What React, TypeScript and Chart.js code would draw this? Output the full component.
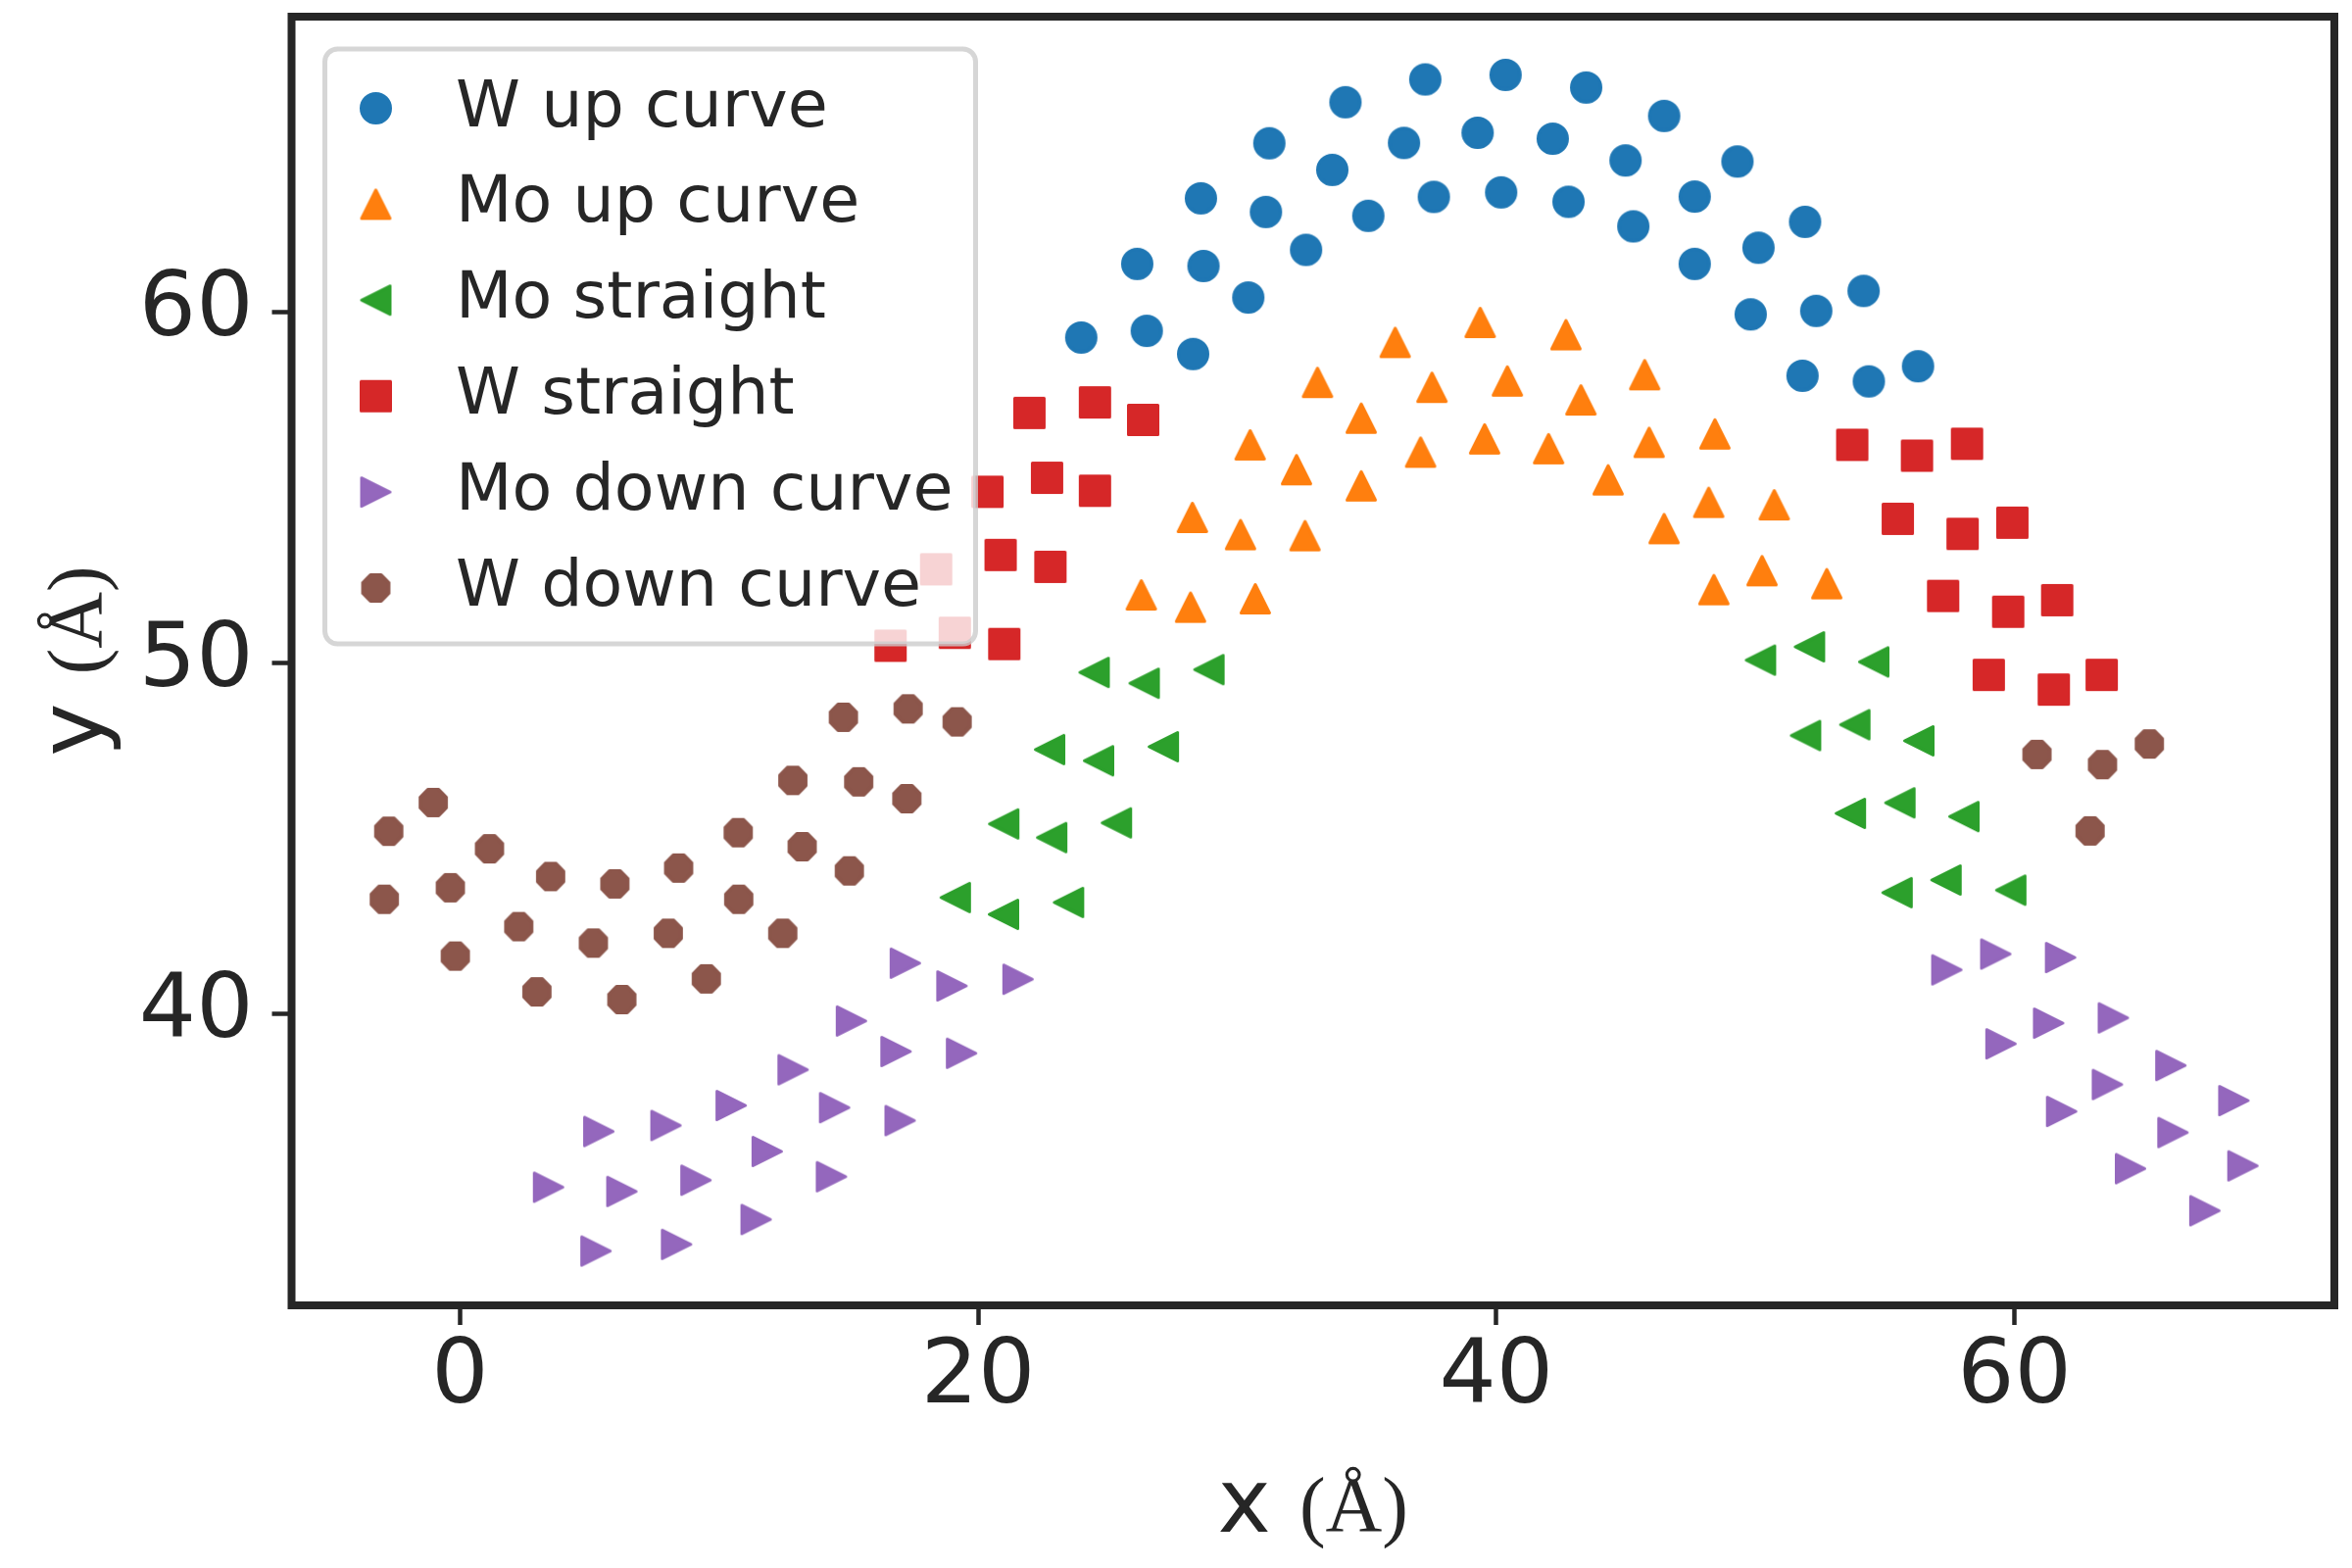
import React, { useEffect, useRef } from "react";
import Chart from "chart.js/auto";

const INK = "#262626";

const xTicks = [0, 20, 40, 60];
const yTicks = [40, 50, 60];
const xLabel = "x";
const yLabel = "y";
const unitLabel = "(Å)";

const seriesNames = [
  "W up curve",
  "Mo up curve",
  "Mo straight",
  "W straight",
  "Mo down curve",
  "W down curve",
];
const seriesColors = ["#1f77b4", "#ff7f0e", "#2ca02c", "#d62728", "#9467bd", "#8c564b"];
const seriesShapes = ["circle", "up", "left", "square", "right", "octagon"];

const wUpX = [
  23.98, 26.51, 28.3, 26.14, 28.7, 30.43, 28.6, 31.11, 32.66, 31.24, 33.67, 35.06, 34.18, 36.44,
  37.59, 37.26, 39.28, 40.19, 40.36, 42.18, 42.79, 43.47, 44.99, 45.29, 46.48, 47.66, 47.66, 49.31,
  50.12, 51.92, 49.82, 52.35, 54.18, 51.82, 54.38, 56.28,
];
const wUpY = [
  59.28, 59.47, 58.81, 61.38, 61.32, 60.42, 63.25, 62.86, 61.78, 64.82, 64.06, 62.75, 65.99, 64.83,
  63.29, 66.64, 65.12, 63.42, 66.77, 64.95, 63.15, 66.41, 64.33, 62.45, 65.6, 63.3, 61.38, 64.3,
  61.84, 62.58, 59.94, 60.04, 60.61, 58.19, 58.03, 58.46,
];

const moUpX = [
  36.1, 39.38, 42.69, 33.1, 37.52, 40.43, 45.73, 34.79, 43.27, 30.5, 37.08, 39.55, 42.02, 45.9,
  48.44, 32.29, 34.79, 44.32, 28.27, 30.13, 32.62, 48.2, 50.73, 46.48, 26.3, 28.2, 30.7, 50.26,
  48.4, 52.76,
];
const moUpY = [
  59.14, 59.71, 59.36, 58.0, 57.86, 58.04, 58.22, 56.98, 57.5, 56.22, 56.01, 56.39, 56.11, 56.29,
  56.53, 55.51, 55.05, 55.22, 54.15, 53.66, 53.63, 54.58, 54.51, 53.83, 51.94, 51.59, 51.83, 52.63,
  52.09, 52.26,
];

const moStraightX = [
  24.48, 26.41, 28.91, 22.76, 24.65, 27.15, 20.99, 22.84, 25.34, 19.12, 20.98, 23.49, 50.2, 52.09,
  54.57, 51.94, 53.84, 56.31, 53.67, 55.58, 58.05, 55.47, 57.36, 59.86,
];
const moStraightY = [
  49.73, 49.42, 49.81, 47.53, 47.21, 47.61, 45.41, 45.02, 45.44, 43.31, 42.83, 43.17, 50.08, 50.46,
  50.03, 47.93, 48.24, 47.78, 45.71, 46.01, 45.62, 43.45, 43.81, 43.52,
];

const wStraightX = [
  21.98, 24.51, 26.37, 20.36, 22.66, 24.51, 18.38, 20.87, 22.79, 16.62, 19.1, 21.01, 53.74, 56.24,
  58.17, 55.5, 58.0, 59.92, 57.25, 59.76, 61.65, 59.01, 61.52, 63.37,
];
const wStraightY = [
  57.13, 57.43, 56.93, 54.88, 55.28, 54.91, 52.67, 53.08, 52.74, 50.49, 50.86, 50.54, 56.22, 55.91,
  56.25, 54.11, 53.68, 54.0, 51.91, 51.46, 51.79, 49.66, 49.24, 49.66,
];

const moDownX = [
  3.42, 5.36, 7.95, 10.47, 12.86, 6.25, 9.11, 11.86, 14.46, 16.83, 19.36, 15.11, 14.34, 16.99,
  11.43, 5.25, 8.36, 17.19, 18.99, 21.54, 57.39, 59.28, 61.78, 59.48, 61.32, 63.82, 61.82, 63.59,
  66.04, 64.48, 66.12, 68.47, 68.82, 67.35,
];
const moDownY = [
  35.05, 36.64, 36.81, 37.38, 38.4, 34.93, 35.25, 36.07, 37.32, 38.92, 38.87, 39.79, 35.35, 36.95,
  34.13, 33.23, 33.42, 41.44, 40.79, 40.98, 41.25, 41.7, 41.6, 39.14, 39.73, 39.88, 37.21, 37.98,
  38.52, 35.58, 36.61, 37.52, 35.66, 34.38,
];

const wDownX = [
  14.8, 17.3, 19.19, 12.85, 15.39, 17.25, -1.03, -2.75, 1.14, 10.74, 13.21, 15.03, 3.5, 5.98, 8.44,
  -2.92, -0.37, 10.76, 2.27, 5.15, 8.04, 12.46, -0.18, 2.97, 6.25, 9.51, 60.87, 63.4, 65.21, 62.92,
];
const wDownY = [
  48.45, 48.69, 48.32, 46.65, 46.61, 46.13, 46.02, 45.2, 44.7, 45.16, 44.76, 44.07, 43.91, 43.7,
  44.15, 43.26, 43.59, 43.26, 42.48, 42.01, 42.29, 42.29, 41.64, 40.62, 40.4, 40.99, 47.39, 47.1,
  47.69, 45.21,
];

const seriesX = [wUpX, moUpX, moStraightX, wStraightX, moDownX, wDownX];
const seriesY = [wUpY, moUpY, moStraightY, wStraightY, moDownY, wDownY];

// matplotlib-like marker drawn once on a small canvas, used as pointStyle
function makeMarker(shape: string, color: string): HTMLCanvasElement {
  const size = shape === "circle" || shape === "square" ? 33 : 32;
  const c = document.createElement("canvas");
  c.width = c.height = size + 8;
  const g = c.getContext("2d")!;
  const m = c.width / 2;
  const h = size / 2 - 1.5;
  g.fillStyle = color;
  g.strokeStyle = color;
  g.lineWidth = 3;
  g.lineJoin = "round";
  g.beginPath();
  if (shape === "circle") {
    g.arc(m, m, h, 0, Math.PI * 2);
  } else if (shape === "square") {
    g.rect(m - h, m - h, 2 * h, 2 * h);
  } else if (shape === "up") {
    g.moveTo(m, m - h);
    g.lineTo(m + h, m + h);
    g.lineTo(m - h, m + h);
  } else if (shape === "left") {
    g.moveTo(m - h, m);
    g.lineTo(m + h, m - h);
    g.lineTo(m + h, m + h);
  } else if (shape === "right") {
    g.moveTo(m + h, m);
    g.lineTo(m - h, m + h);
    g.lineTo(m - h, m - h);
  } else {
    for (let k = 0; k < 8; k++) {
      const a = Math.PI / 8 + (k * Math.PI) / 4;
      const px = m + Math.cos(a) * h;
      const py = m + Math.sin(a) * h;
      if (k === 0) g.moveTo(px, py);
      else g.lineTo(px, py);
    }
  }
  g.closePath();
  g.fill();
  g.stroke();
  return c;
}

const framePlugin = {
  id: "frame",
  afterDatasetsDraw(chart: Chart) {
    const { ctx, chartArea } = chart;
    ctx.save();
    ctx.strokeStyle = INK;
    ctx.lineWidth = 8;
    ctx.strokeRect(chartArea.left, chartArea.top, chartArea.width, chartArea.height);
    ctx.restore();
  },
};

const legendPlugin = {
  id: "insideLegend",
  afterDraw(chart: Chart) {
    const { ctx, chartArea } = chart;
    const left = chartArea.left + 34;
    const top = chartArea.top + 33;
    ctx.save();
    ctx.beginPath();
    ctx.roundRect(left, top, 664, 607, 13);
    ctx.fillStyle = "rgba(255,255,255,0.8)";
    ctx.fill();
    ctx.lineWidth = 5;
    ctx.strokeStyle = "rgba(204,204,204,0.8)";
    ctx.stroke();
    ctx.font = "66.7px 'DejaVu Sans'";
    ctx.fillStyle = INK;
    ctx.textAlign = "left";
    ctx.textBaseline = "alphabetic";
    chart.data.datasets.forEach((ds: any, i: number) => {
      const cy = top + 60.5 + i * 97.9;
      const img = ds.pointStyle as HTMLCanvasElement;
      ctx.drawImage(img, left + 52 - img.width / 2, cy - img.height / 2);
      ctx.fillText(ds.label, left + 133.5, cy + 18);
    });
    ctx.restore();
  },
};

const axisTitlePlugin = {
  id: "axisTitles",
  afterDraw(chart: Chart) {
    const { ctx, chartArea } = chart;
    const sans = "91.7px 'DejaVu Sans'";
    const serif = "80px 'Liberation Serif'";
    const drawLabel = (name: string) => {
      ctx.font = sans;
      const w1 = ctx.measureText(name + " ").width;
      ctx.font = serif;
      const w2 = ctx.measureText(unitLabel).width;
      const start = -(w1 + w2) / 2;
      ctx.font = sans;
      ctx.fillText(name + " ", start, 0);
      ctx.font = serif;
      ctx.fillText(unitLabel, start + w1, 0);
    };
    ctx.save();
    ctx.fillStyle = INK;
    ctx.textAlign = "left";
    ctx.textBaseline = "alphabetic";
    ctx.translate((chartArea.left + chartArea.right) / 2, 1563);
    drawLabel(xLabel);
    ctx.restore();
    ctx.save();
    ctx.fillStyle = INK;
    ctx.textAlign = "left";
    ctx.textBaseline = "alphabetic";
    ctx.translate(104, (chartArea.top + chartArea.bottom) / 2);
    ctx.rotate(-Math.PI / 2);
    drawLabel(yLabel);
    ctx.restore();
  },
};

const tickFont = { family: "'DejaVu Sans'", size: 91.7 };

const App: React.FC = () => {
  const chartRef = useRef<HTMLCanvasElement | null>(null);
  const chartInstanceRef = useRef<Chart | null>(null);

  useEffect(() => {
    if (!chartRef.current) return;
    if (chartInstanceRef.current) chartInstanceRef.current.destroy();

    const datasets = seriesNames.map((name, i) => ({
      label: name,
      data: seriesX[i].map((x, j) => ({ x, y: seriesY[i][j] })),
      pointStyle: makeMarker(seriesShapes[i], seriesColors[i]),
      pointRadius: 16,
      pointHoverRadius: 16,
      backgroundColor: seriesColors[i],
      borderColor: seriesColors[i],
      order: seriesNames.length - i, // later series drawn on top, like matplotlib
    }));

    chartInstanceRef.current = new Chart(chartRef.current, {
      type: "scatter",
      data: { datasets: datasets as any },
      options: {
        animation: false,
        responsive: false,
        devicePixelRatio: 1,
        events: [],
        layout: { padding: { top: 17, right: 18, left: 0, bottom: 0 } },
        plugins: {
          legend: { display: false },
          tooltip: { enabled: false },
        },
        scales: {
          x: {
            type: "linear",
            min: -6.5,
            max: 72.35,
            afterFit: (scale: any) => {
              scale.height = 268;
              // tick labels sit well inside the axis, no extra edge room needed
              scale.paddingLeft = 0;
              scale.paddingRight = 0;
            },
            afterBuildTicks: (scale: any) => {
              scale.ticks = xTicks.map((v) => ({ value: v }));
            },
            border: { display: false },
            grid: {
              display: true,
              drawOnChartArea: false,
              drawTicks: true,
              tickLength: 20,
              tickWidth: 4.5,
              tickColor: INK,
            },
            ticks: { font: tickFont, color: INK, padding: 0, maxRotation: 0, autoSkip: false },
          },
          y: {
            type: "linear",
            min: 31.68,
            max: 68.43,
            afterFit: (scale: any) => {
              scale.width = 297.5;
              scale.paddingTop = 0;
              scale.paddingBottom = 0;
            },
            afterBuildTicks: (scale: any) => {
              scale.ticks = yTicks.map((v) => ({ value: v }));
            },
            border: { display: false },
            grid: {
              display: true,
              drawOnChartArea: false,
              drawTicks: true,
              tickLength: 20,
              tickWidth: 4.5,
              tickColor: INK,
            },
            ticks: { font: tickFont, color: INK, padding: 19, autoSkip: false },
          },
        },
      },
      plugins: [framePlugin, legendPlugin, axisTitlePlugin],
    });

    return () => {
      if (chartInstanceRef.current) {
        chartInstanceRef.current.destroy();
        chartInstanceRef.current = null;
      }
    };
  }, []);

  return (
    <div style={{ position: "fixed", left: 0, top: 0, width: 2400, height: 1600, background: "#ffffff" }}>
      <canvas ref={chartRef} width={2400} height={1600} style={{ display: "block", width: 2400, height: 1600 }} />
    </div>
  );
};

export default App;
